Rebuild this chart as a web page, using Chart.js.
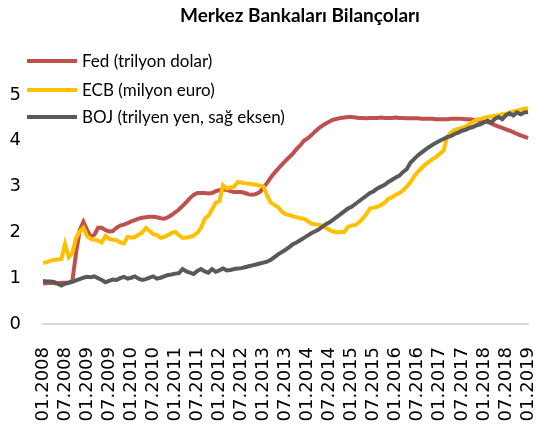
<!DOCTYPE html>
<html>
<head>
<meta charset="utf-8">
<script src="https://cdn.jsdelivr.net/npm/chart.js@4.4.1/dist/chart.umd.min.js"></script>
<style>
  html, body { margin: 0; padding: 0; background: #ffffff; }
  #wrap { position: relative; width: 538px; height: 425px; overflow: hidden; }
  #title { position: absolute; left: 0; width: 600px; top: 3px; text-align: center;
           font-family: Lato, "Open Sans", sans-serif; font-weight: bold; font-size: 19px; color: #000; }
  .lg { position: absolute; left: 27px; height: 20px; font-family: Lato, sans-serif; font-size: 17px; color: #000; white-space: nowrap; }
  .lg .sw { position: absolute; left: 0; top: 8px; width: 50px; height: 4px; }
  .lg .tx { position: absolute; left: 55px; top: -1px; }
</style>
</head>
<body>
<div id="wrap">
  <canvas id="c" width="538" height="425"></canvas>
  <div id="title">Merkez Bankaları Bilançoları</div>
  <div id="legend"></div>
</div>
<script>
// ---- data (monthly, 01.2008 - 01.2019) ----
const startYear = 2008;
const monthCount = 133;
const tickLabels = ["01.2008","07.2008","01.2009","07.2009","01.2010","07.2010","01.2011","07.2011",
  "01.2012","07.2012","01.2013","07.2013","01.2014","07.2014","01.2015","07.2015","01.2016","07.2016",
  "01.2017","07.2017","01.2018","07.2018","01.2019"];
const seriesNames = ["Fed (trilyon dolar)", "ECB (milyon euro)", "BOJ (trilyen yen, sağ eksen)"];

const fed = [
  0.89,0.89,0.90,0.89,0.89,0.90,0.90,0.90,0.95,1.55,2.05,2.23,
  2.05,1.90,1.95,2.10,2.10,2.05,2.02,2.03,2.10,2.15,2.17,2.20,
  2.24,2.27,2.30,2.32,2.33,2.34,2.34,2.33,2.31,2.30,2.33,2.38,
  2.44,2.50,2.58,2.66,2.75,2.82,2.86,2.86,2.86,2.85,2.86,2.90,
  2.92,2.93,2.93,2.90,2.88,2.88,2.88,2.86,2.83,2.82,2.84,2.88,
  2.98,3.08,3.20,3.30,3.39,3.48,3.56,3.64,3.72,3.82,3.90,4.00,
  4.05,4.12,4.20,4.27,4.33,4.38,4.42,4.46,4.48,4.50,4.51,4.52,
  4.52,4.51,4.50,4.50,4.49,4.50,4.50,4.50,4.51,4.50,4.50,4.50,
  4.51,4.50,4.50,4.49,4.49,4.49,4.49,4.48,4.48,4.48,4.48,4.47,
  4.47,4.47,4.47,4.48,4.48,4.48,4.48,4.47,4.47,4.46,4.45,4.44,
  4.42,4.41,4.38,4.34,4.31,4.28,4.25,4.22,4.19,4.15,4.12,4.09,
  4.06
];
const ecb = [
  1.33,1.35,1.38,1.40,1.41,1.42,1.75,1.46,1.55,1.88,2.02,2.10,
  1.92,1.86,1.84,1.82,1.78,1.92,1.86,1.84,1.83,1.78,1.76,1.90,
  1.89,1.90,1.95,2.00,2.10,2.03,1.96,1.94,1.88,1.90,1.94,1.99,
  2.01,1.94,1.88,1.89,1.90,1.93,1.99,2.10,2.30,2.36,2.50,2.65,
  2.68,3.03,2.96,2.98,3.00,3.10,3.09,3.07,3.06,3.05,3.04,3.02,
  3.00,2.80,2.65,2.60,2.55,2.45,2.40,2.38,2.35,2.33,2.31,2.30,
  2.25,2.19,2.18,2.17,2.15,2.10,2.05,2.02,2.00,2.01,2.01,2.12,
  2.15,2.16,2.22,2.30,2.40,2.52,2.54,2.56,2.60,2.65,2.73,2.77,
  2.82,2.86,2.92,3.00,3.10,3.22,3.32,3.40,3.48,3.54,3.60,3.65,
  3.72,3.78,4.08,4.18,4.24,4.26,4.28,4.31,4.36,4.41,4.46,4.48,
  4.50,4.52,4.53,4.55,4.56,4.58,4.59,4.62,4.64,4.66,4.68,4.70,
  4.72
];
const boj = [
  0.94,0.93,0.93,0.92,0.88,0.84,0.88,0.90,0.92,0.95,0.98,1.01,
  1.03,1.02,1.04,1.00,0.96,0.91,0.94,0.97,0.96,1.00,1.03,0.99,
  1.01,1.04,0.99,0.96,0.98,1.01,1.04,0.99,1.01,1.04,1.07,1.08,
  1.10,1.11,1.20,1.15,1.12,1.09,1.16,1.20,1.15,1.12,1.20,1.14,
  1.17,1.21,1.17,1.18,1.20,1.21,1.22,1.24,1.26,1.28,1.30,1.32,
  1.34,1.36,1.40,1.46,1.52,1.57,1.62,1.68,1.74,1.78,1.83,1.88,
  1.93,1.98,2.02,2.06,2.12,2.18,2.22,2.28,2.34,2.40,2.46,2.52,
  2.56,2.62,2.68,2.74,2.80,2.86,2.90,2.96,3.00,3.04,3.10,3.15,
  3.20,3.24,3.32,3.38,3.52,3.60,3.68,3.74,3.80,3.86,3.91,3.96,
  4.00,4.04,4.08,4.10,4.15,4.18,4.22,4.24,4.28,4.30,4.34,4.36,
  4.40,4.44,4.40,4.48,4.52,4.47,4.56,4.60,4.55,4.62,4.58,4.62,
  4.63
];
const colors = ["#C0504D", "#FFC000", "#595959"];

// month categories
const categories = [];
for (let i = 0; i < monthCount; i++) {
  const m = (i % 12) + 1, y = startYear + Math.floor(i / 12);
  categories.push((m < 10 ? "0" + m : "" + m) + "." + y);
}

// HTML legend
const legendTops = [51, 80, 107];
const lg = document.getElementById("legend");
seriesNames.forEach((n, i) => {
  const d = document.createElement("div");
  d.className = "lg";
  d.style.top = legendTops[i] + "px";
  d.innerHTML = '<div class="sw" style="background:' + colors[i] + '"></div><span class="tx"></span>';
  d.querySelector(".tx").textContent = n;
  lg.appendChild(d);
});

const series = [fed, ecb, boj];
new Chart(document.getElementById("c"), {
  type: "line",
  data: {
    labels: categories,
    datasets: series.map((s, i) => ({
      label: seriesNames[i],
      data: s,
      borderColor: colors[i],
      backgroundColor: colors[i],
      borderWidth: 4,
      pointRadius: 0,
      tension: 0,
      order: 3 - i
    }))
  },
  options: {
    responsive: false,
    animation: false,
    layout: { padding: { top: 95, right: 10, left: 0, bottom: 0 } },
    plugins: { legend: { display: false }, title: { display: false }, tooltip: { enabled: false } },
    scales: {
      x: {
        grid: { display: false },
        border: { display: true, color: "#d9d9d9", width: 2 },
        ticks: {
          autoSkip: false, minRotation: 90, maxRotation: 90, padding: 15,
          color: "#000", font: { family: "DejaVu Sans", size: 18 },
          callback: function (v, i) { return tickLabels.indexOf(categories[i]) >= 0 ? categories[i] : null; }
        },
        afterFit: s => { s.height = 101; s.paddingLeft = 0; s.paddingRight = 0; }
      },
      y: {
        min: 0, max: 5,
        grid: { display: false },
        border: { display: false },
        ticks: { stepSize: 1, padding: 14, color: "#000", font: { family: "DejaVu Sans", size: 18 } },
        afterFit: s => { s.width = 43; }
      }
    }
  }
});
</script>
</body>
</html>
